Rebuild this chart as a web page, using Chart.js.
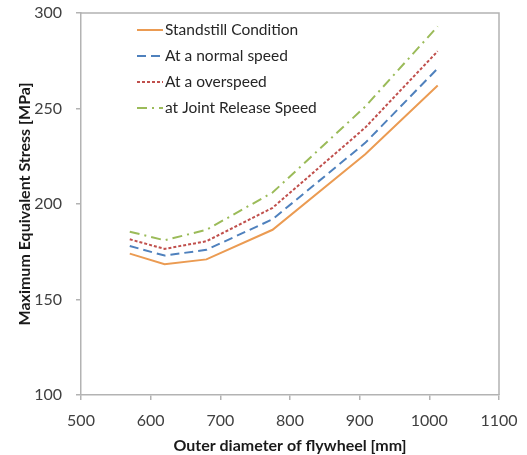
<!DOCTYPE html>
<html>
<head>
<meta charset="utf-8">
<script src="https://cdn.jsdelivr.net/npm/chart.js@4.4.1/dist/chart.umd.min.js"></script>
<style>
html,body{margin:0;padding:0;background:#fff;}
#wrap{width:527px;height:455px;position:relative;}
</style>
</head>
<body>
<div id="wrap"><canvas id="c" width="527" height="455"></canvas></div>
<script>
const diameters = [570, 620, 680, 775, 908, 1012];
const standstill = [174, 168.5, 171, 186.5, 226, 262];
const normalSpeed = [178, 173, 176, 192, 232, 271];
const overspeed = [181.5, 176.5, 180.5, 198, 240, 280];
const jointRelease = [185.5, 181, 186.5, 206, 251, 293];
const seriesNames = ["Standstill Condition", "At a normal speed", "At a overspeed", "at Joint Release Speed"];
const xTicks = [500, 600, 700, 800, 900, 1000, 1100];
const yTicks = [100, 150, 200, 250, 300];

const FONT = "Lato, 'Open Sans', sans-serif";
function pts(ys){ return diameters.map((x,i)=>({x:x,y:ys[i]})); }

const styles = [
  {color:'#EB9B52', dash:[]},
  {color:'#4F81BD', dash:[9,5]},
  {color:'#C0504D', dash:[3,2]},
  {color:'#9BBB59', dash:[10,5,2,5]}
];
const values = [standstill, normalSpeed, overspeed, jointRelease];

const datasets = values.map((v,i)=>({
  label: seriesNames[i],
  data: pts(v),
  borderColor: styles[i].color,
  backgroundColor: styles[i].color,
  borderDash: styles[i].dash,
  borderWidth: 2,
  pointRadius: 0,
  pointStyle: 'line',
  tension: 0,
  fill: false
}));

const boxAndLegend = {
  id: 'boxAndLegend',
  afterDraw(chart){
    const ctx = chart.ctx, a = chart.chartArea;
    ctx.save();
    ctx.strokeStyle = '#b3b3b3';
    ctx.lineWidth = 1.5;
    ctx.beginPath();
    ctx.moveTo(a.left, a.top);
    ctx.lineTo(a.right, a.top);
    ctx.lineTo(a.right, a.bottom);
    ctx.stroke();
    // legend
    ctx.font = "15.5px " + FONT;
    ctx.textBaseline = 'middle';
    ctx.textAlign = 'left';
    chart.data.datasets.forEach((ds,i)=>{
      const y = a.top + 17 + i*26;
      const x0 = a.left + 56;
      ctx.strokeStyle = ds.borderColor;
      ctx.lineWidth = 2;
      ctx.setLineDash(ds.borderDash || []);
      ctx.beginPath();
      ctx.moveTo(x0, y);
      ctx.lineTo(x0 + 26, y);
      ctx.stroke();
      ctx.setLineDash([]);
      ctx.fillStyle = '#262626';
      ctx.fillText(ds.label, x0 + 28, y);
    });
    ctx.restore();
  }
};

new Chart(document.getElementById('c'), {
  type: 'line',
  data: { datasets },
  options: {
    responsive: false,
    animation: false,
    layout: { padding: { top: 13, right: 28, left: 15, bottom: 0 } },
    plugins: { legend: { display: false }, tooltip: { enabled: false } },
    scales: {
      x: {
        type: 'linear',
        min: 500, max: 1100,
        afterBuildTicks: s => { s.ticks = xTicks.map(v=>({value:v})); },
        afterFit: s => { s.height = 60; s.paddingLeft = 0; s.paddingRight = 0; },
        grid: { drawOnChartArea: false, tickLength: 5, color: '#b3b3b3', lineWidth: 1.5 },
        border: { color: '#b3b3b3', width: 1.5 },
        ticks: { font: { family: FONT, size: 16 }, color: '#404040', padding: 11, maxRotation: 0, callback: v => String(v) },
        title: { display: true, text: 'Outer diameter of flywheel [mm]', font: { family: FONT, size: 16, weight: 'bold' }, color: '#1a1a1a', padding: { top: 4, bottom: 0 } }
      },
      y: {
        min: 100, max: 300,
        afterBuildTicks: s => { s.ticks = yTicks.map(v=>({value:v})); },
        afterFit: s => { s.width = 66; s.paddingTop = 0; s.paddingBottom = 0; },
        grid: { drawOnChartArea: false, tickLength: 5, color: '#b3b3b3', lineWidth: 1.5 },
        border: { color: '#b3b3b3', width: 1.5 },
        ticks: { font: { family: FONT, size: 16 }, color: '#404040', padding: 14, callback: v => String(v) },
        title: { display: true, text: 'Maximum Equivalent Stress [MPa]', font: { family: FONT, size: 16, weight: 'bold' }, color: '#1a1a1a', padding: { top: 0, bottom: 4 } }
      }
    }
  },
  plugins: [boxAndLegend]
});
</script>
</body>
</html>
